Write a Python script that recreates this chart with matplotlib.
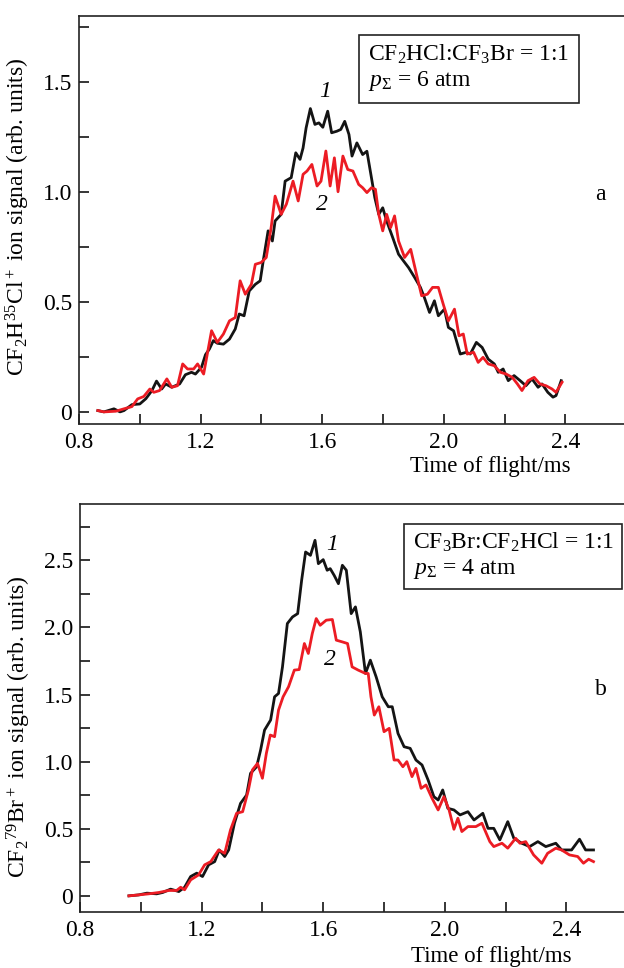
import matplotlib
matplotlib.use('Agg')
import matplotlib.pyplot as plt
from matplotlib.ticker import MultipleLocator, FuncFormatter

plt.rcParams['font.family'] = ['Liberation Serif', 'DejaVu Serif']
plt.rcParams['mathtext.fontset'] = 'custom'
plt.rcParams['mathtext.rm'] = 'Liberation Serif'
plt.rcParams['mathtext.it'] = 'Liberation Serif:italic'
plt.rcParams['font.size'] = 17

# ---- panel a: CF2H35Cl+ signal, curves 1 (black) and 2 (red) ----
a_x1 = [0.862, 0.882, 0.915, 0.935, 0.948, 0.974, 1.0, 1.02, 1.04, 1.055, 1.072, 1.085, 1.105, 1.131,
        1.15, 1.17, 1.183, 1.203, 1.216, 1.229, 1.242, 1.255, 1.275, 1.295, 1.314, 1.327, 1.343, 1.36,
        1.38, 1.396, 1.406, 1.422, 1.436, 1.445, 1.465, 1.478, 1.498, 1.513, 1.527, 1.537, 1.547, 1.561,
        1.576, 1.589, 1.602, 1.618, 1.631, 1.648, 1.661, 1.674, 1.688, 1.698, 1.714, 1.733, 1.747, 1.76,
        1.773, 1.786, 1.799, 1.812, 1.832, 1.851, 1.867, 1.884, 1.904, 1.923, 1.936, 1.953, 1.969, 1.982,
        2.002, 2.015, 2.032, 2.054, 2.074, 2.087, 2.107, 2.126, 2.146, 2.166, 2.179, 2.195, 2.212, 2.231,
        2.251, 2.27, 2.29, 2.31, 2.323, 2.342, 2.359, 2.369, 2.386]
a_y1 = [0.006, 0.0, 0.014, 0.0, 0.006, 0.033, 0.036, 0.06, 0.097, 0.14, 0.104, 0.127, 0.112, 0.127,
        0.169, 0.18, 0.172, 0.203, 0.26, 0.286, 0.324, 0.312, 0.308, 0.331, 0.377, 0.445, 0.437, 0.55,
        0.58, 0.596, 0.687, 0.823, 0.777, 0.868, 0.898, 1.049, 1.065, 1.178, 1.148, 1.2, 1.291, 1.379,
        1.307, 1.314, 1.294, 1.367, 1.269, 1.276, 1.284, 1.321, 1.261, 1.163, 1.223, 1.17, 1.185, 1.08,
        0.974, 0.898, 0.928, 0.868, 0.792, 0.717, 0.687, 0.656, 0.611, 0.566, 0.52, 0.452, 0.505, 0.437,
        0.467, 0.384, 0.369, 0.263, 0.271, 0.263, 0.316, 0.293, 0.24, 0.218, 0.18, 0.195, 0.142, 0.165,
        0.142, 0.119, 0.15, 0.112, 0.127, 0.089, 0.067, 0.074, 0.142]
a_x2 = [0.862, 0.882, 0.921, 0.948, 0.974, 0.993, 1.013, 1.033, 1.046, 1.065, 1.089, 1.105, 1.124, 1.141,
        1.157, 1.177, 1.19, 1.21, 1.223, 1.236, 1.255, 1.275, 1.295, 1.314, 1.33, 1.347, 1.367, 1.38,
        1.399, 1.416, 1.432, 1.445, 1.465, 1.482, 1.504, 1.521, 1.537, 1.55, 1.566, 1.583, 1.596, 1.612,
        1.626, 1.64, 1.652, 1.668, 1.684, 1.701, 1.72, 1.733, 1.747, 1.762, 1.775, 1.786, 1.799, 1.812,
        1.825, 1.838, 1.851, 1.871, 1.891, 1.91, 1.927, 1.946, 1.963, 1.982, 1.998, 2.015, 2.035, 2.05,
        2.064, 2.077, 2.098, 2.113, 2.129, 2.146, 2.166, 2.186, 2.205, 2.225, 2.242, 2.257, 2.277, 2.297,
        2.316, 2.336, 2.356, 2.369, 2.389]
a_y2 = [0.006, 0.0, 0.003, 0.014, 0.024, 0.059, 0.07, 0.104, 0.089, 0.097, 0.15, 0.112, 0.119, 0.218,
        0.195, 0.195, 0.218, 0.172, 0.271, 0.369, 0.316, 0.354, 0.414, 0.429, 0.596, 0.535, 0.58, 0.671,
        0.679, 0.702, 0.838, 0.981, 0.898, 0.944, 1.049, 0.959, 1.08, 1.095, 1.125, 1.027, 1.049, 1.186,
        1.027, 1.155, 1.001, 1.163, 1.102, 1.095, 1.034, 1.019, 0.997, 1.019, 1.012, 0.898, 0.823, 0.898,
        0.838, 0.891, 0.777, 0.702, 0.739, 0.626, 0.528, 0.535, 0.566, 0.566, 0.49, 0.414, 0.467, 0.346,
        0.354, 0.263, 0.271, 0.225, 0.248, 0.218, 0.21, 0.18, 0.172, 0.157, 0.127, 0.097, 0.142, 0.157,
        0.127, 0.119, 0.104, 0.089, 0.135]

# ---- panel b: CF2 79Br+ signal ----
b_x1 = [0.961, 0.993, 1.02, 1.052, 1.072, 1.098, 1.125, 1.144, 1.164, 1.184, 1.203, 1.223, 1.243, 1.258,
        1.276, 1.289, 1.308, 1.328, 1.348, 1.361, 1.381, 1.394, 1.407, 1.427, 1.44, 1.453, 1.466, 1.482,
        1.499, 1.516, 1.529, 1.542, 1.558, 1.573, 1.584, 1.6, 1.613, 1.623, 1.636, 1.65, 1.663, 1.676,
        1.692, 1.706, 1.722, 1.739, 1.755, 1.774, 1.794, 1.814, 1.827, 1.846, 1.866, 1.886, 1.905, 1.925,
        1.945, 1.964, 1.978, 1.993, 2.01, 2.03, 2.05, 2.076, 2.096, 2.125, 2.142, 2.161, 2.181, 2.207,
        2.227, 2.253, 2.279, 2.306, 2.332, 2.365, 2.384, 2.417, 2.443, 2.463, 2.489]
b_y1 = [0.0, 0.007, 0.02, 0.015, 0.025, 0.05, 0.032, 0.064, 0.144, 0.169, 0.144, 0.231, 0.255, 0.342,
        0.293, 0.342, 0.541, 0.689, 0.751, 0.913, 0.962, 1.086, 1.235, 1.31, 1.483, 1.508, 1.706, 2.029,
        2.078, 2.103, 2.351, 2.562, 2.537, 2.649, 2.475, 2.505, 2.426, 2.438, 2.388, 2.326, 2.463, 2.426,
        2.103, 2.153, 1.967, 1.657, 1.756, 1.632, 1.483, 1.409, 1.409, 1.21, 1.111, 1.099, 1.012, 0.975,
        0.863, 0.739, 0.714, 0.789, 0.652, 0.64, 0.603, 0.627, 0.565, 0.615, 0.503, 0.503, 0.417, 0.553,
        0.429, 0.392, 0.367, 0.404, 0.367, 0.392, 0.342, 0.342, 0.422, 0.342, 0.342]
b_x2 = [0.961, 0.993, 1.026, 1.059, 1.092, 1.118, 1.131, 1.144, 1.164, 1.19, 1.21, 1.23, 1.256, 1.276,
        1.295, 1.315, 1.335, 1.354, 1.367, 1.384, 1.4, 1.413, 1.426, 1.44, 1.453, 1.468, 1.486, 1.505,
        1.521, 1.538, 1.551, 1.564, 1.577, 1.59, 1.61, 1.63, 1.643, 1.663, 1.68, 1.695, 1.715, 1.739,
        1.748, 1.757, 1.768, 1.783, 1.8, 1.817, 1.833, 1.846, 1.862, 1.875, 1.892, 1.905, 1.922, 1.938,
        1.958, 1.978, 1.997, 2.014, 2.03, 2.043, 2.056, 2.076, 2.102, 2.122, 2.148, 2.161, 2.188, 2.207,
        2.233, 2.247, 2.266, 2.292, 2.319, 2.338, 2.365, 2.384, 2.41, 2.437, 2.456, 2.473, 2.489]
b_y2 = [0.0, 0.007, 0.015, 0.025, 0.04, 0.04, 0.064, 0.045, 0.119, 0.156, 0.231, 0.255, 0.342, 0.317,
        0.491, 0.615, 0.627, 0.789, 0.938, 0.987, 0.876, 1.062, 1.198, 1.186, 1.384, 1.483, 1.558, 1.682,
        1.686, 1.88, 1.806, 1.954, 2.066, 2.016, 2.054, 2.059, 1.905, 1.892, 1.88, 1.706, 1.682, 1.657,
        1.657, 1.483, 1.347, 1.409, 1.223, 1.248, 1.012, 1.012, 0.962, 1.0, 0.888, 0.95, 0.801, 0.826,
        0.727, 0.64, 0.739, 0.64, 0.496, 0.578, 0.479, 0.516, 0.516, 0.541, 0.404, 0.367, 0.392, 0.355,
        0.429, 0.392, 0.404, 0.305, 0.243, 0.317, 0.355, 0.342, 0.305, 0.293, 0.243, 0.273, 0.255]

BLACK = '#141414'
RED = '#ec1c24'

fig = plt.figure(figsize=(6.24, 9.68), dpi=100)
ax_a = fig.add_axes([0.1266, 0.562, 0.877, 0.4215])
ax_b = fig.add_axes([0.1282, 0.0579, 0.877, 0.4215])


def style_axes(ax, ylim, ylabel, label_y):
    ax.set_xlim(0.8, 2.6)
    ax.set_ylim(*ylim)
    ax.xaxis.set_major_locator(MultipleLocator(0.4))
    ax.xaxis.set_minor_locator(MultipleLocator(0.2))
    ax.yaxis.set_major_locator(MultipleLocator(0.5))
    ax.yaxis.set_minor_locator(MultipleLocator(0.25))
    ax.xaxis.set_major_formatter(FuncFormatter(lambda v, p: '%.1f' % v))
    ax.yaxis.set_major_formatter(FuncFormatter(lambda v, p: '0' if abs(v) < 1e-9 else '%.1f' % v))
    ax.tick_params(which='both', direction='in', length=7, width=1.1, labelsize=17,
                   top=False, right=False)
    ax.tick_params(axis='x', pad=6)
    ax.tick_params(axis='y', pad=5)
    ax.spines['right'].set_visible(False)
    for s in ['left', 'bottom', 'top']:
        ax.spines[s].set_linewidth(1.2)
        ax.spines[s].set_color('#222222')
    ax.set_ylabel(ylabel, fontsize=17)
    ax.yaxis.set_label_coords(-0.086, label_y)
    ax.set_xlabel('Time of flight/ms', fontsize=16.5)


# panel a
ax_a.plot(a_x1, a_y1, color=BLACK, lw=2.0)
ax_a.plot(a_x2, a_y2, color=RED, lw=2.0)
style_axes(ax_a, (-0.055, 1.8), r'CF$_2$H$^{35}$Cl$^+$ ion signal (arb. units)', 0.507)
ax_a.xaxis.set_label_coords(0.751, -0.105)
ax_a.xaxis.label.set_va('center')
ax_a.text(0.528, 0.935, 'CF$_2$HCl:CF$_3$Br = 1:1\n$p_\\Sigma$ = 6 atm', transform=ax_a.transAxes,
          ha='left', va='top', fontsize=17, linespacing=1.2,
          bbox=dict(boxstyle='square,pad=0.4', facecolor='white', edgecolor='#222222', linewidth=1.2))
ax_a.text(1.609, 1.455, '1', style='italic', fontsize=17, ha='center', va='center')
ax_a.text(1.600, 0.945, '2', style='italic', fontsize=17, ha='center', va='center')
ax_a.text(2.514, 0.99, 'a', fontsize=17, ha='center', va='center')

# panel b
ax_b.plot(b_x1, b_y1, color=BLACK, lw=2.0)
ax_b.plot(b_x2, b_y2, color=RED, lw=2.0)
style_axes(ax_b, (-0.12, 2.92), r'CF$_2{}^{79}$Br$^+$ ion signal (arb. units)', 0.455)
ax_b.xaxis.set_label_coords(0.751, -0.110)
ax_b.xaxis.label.set_va('center')
ax_b.text(0.608, 0.935, 'CF$_3$Br:CF$_2$HCl = 1:1\n$p_\\Sigma$ = 4 atm', transform=ax_b.transAxes,
          ha='left', va='top', fontsize=17, linespacing=1.2,
          bbox=dict(boxstyle='square,pad=0.35', facecolor='white', edgecolor='#222222', linewidth=1.2))
ax_b.text(1.629, 2.619, '1', style='italic', fontsize=17, ha='center', va='center')
ax_b.text(1.622, 1.763, '2', style='italic', fontsize=17, ha='center', va='center')
ax_b.text(2.514, 1.54, 'b', fontsize=17, ha='center', va='center')

fig.savefig('out.png', dpi=100)
